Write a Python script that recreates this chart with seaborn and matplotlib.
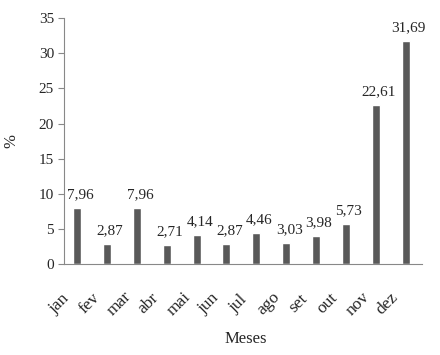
import matplotlib.pyplot as plt
import matplotlib.transforms as mtransforms
import seaborn as sns
import pandas as pd

# ============================
# Data
# ============================

meses = ['jan', 'fev', 'mar', 'abr', 'mai', 'jun',
         'jul', 'ago', 'set', 'out', 'nov', 'dez']
percentual = [7.96, 2.87, 7.96, 2.71, 4.14, 2.87,
              4.46, 3.03, 3.98, 5.73, 22.61, 31.69]

df = pd.DataFrame({'Meses': meses, 'pct': percentual})

# ============================
# Plotting
# ============================

sns.set_style('white')
plt.rcParams['font.family'] = ['Liberation Serif', 'DejaVu Serif']

fig, ax = plt.subplots(figsize=(4.4, 3.55), dpi=100)
fig.subplots_adjust(left=0.145, right=0.959, bottom=0.256, top=0.949)

sns.barplot(data=df, x='Meses', y='pct', ax=ax, color='#595959',
            saturation=1, width=0.27)

labels = [f'{v:.2f}'.replace('.', ',') for v in percentual]
anns = ax.bar_label(ax.containers[0], labels=labels, padding=5, fontsize=11)
for a in anns:
    a.xyann = (2.2, 5)  # value labels sit slightly right of the bars

ax.set_ylim(0, 35)
ax.set_yticks(range(0, 36, 5))
ax.set_xlim(-0.45, 11.55)

for side in ['top', 'right']:
    ax.spines[side].set_visible(False)
for side in ['left', 'bottom']:
    ax.spines[side].set_color('#888888')

ax.tick_params(axis='y', left=True, length=4, color='#888888',
               labelsize=11, pad=3)
ax.tick_params(axis='x', bottom=False, labelsize=12.5, pad=0)

# rotated month labels, shifted down-left of each bar
offset = mtransforms.ScaledTranslation(-0.18, -0.345, fig.dpi_scale_trans)
for lab in ax.get_xticklabels():
    lab.set_rotation(45)
    lab.set_ha('center')
    lab.set_va('center')
    lab.set_rotation_mode('anchor')
    lab.set_transform(lab.get_transform() + offset)

ax.set_xlabel('Meses', fontsize=12)
ax.xaxis.set_label_coords(0.508, -0.272)
ax.set_ylabel('%', fontsize=12, labelpad=14)

plt.savefig('out.png', dpi=100)
